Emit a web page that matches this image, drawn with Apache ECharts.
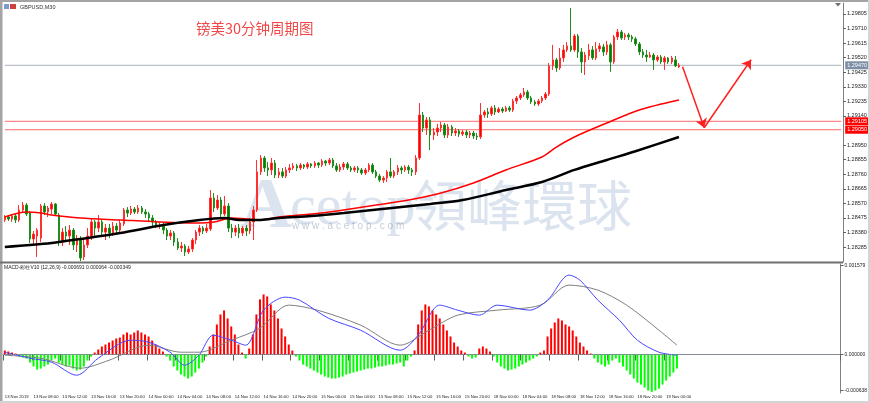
<!DOCTYPE html>
<html><head><meta charset="utf-8">
<script src="https://cdn.jsdelivr.net/npm/echarts@6/dist/echarts.min.js"></script>
<style>html,body{margin:0;padding:0;background:#fff}#c{width:870px;height:403px}</style>
</head><body><div id="c"></div>
<script>
const timeLabels = ["13 Nov 2019","13 Nov 08:00","13 Nov 12:00","13 Nov 16:00","13 Nov 20:00","14 Nov 00:00","14 Nov 04:00","14 Nov 08:00","14 Nov 12:00","14 Nov 16:00","14 Nov 20:00","15 Nov 00:00","15 Nov 04:00","15 Nov 08:00","15 Nov 12:00","15 Nov 16:00","15 Nov 20:00","18 Nov 00:00","18 Nov 04:00","18 Nov 08:00","18 Nov 12:00","18 Nov 16:00","18 Nov 20:00","19 Nov 00:00"];

const opens = [1.28462,1.28481,1.28468,1.28488,1.28462,1.28527,1.28559,1.28507,1.28338,1.28357,
1.28344,1.28553,1.28514,1.28533,1.28566,1.28494,1.28318,1.28383,1.28357,1.28396,
1.28299,1.28331,1.28220,1.28299,1.28357,1.28449,1.28409,1.28449,1.28383,1.28409,
1.28377,1.28422,1.28396,1.28436,1.28527,1.28507,1.28533,1.28514,1.28540,1.28514,
1.28501,1.28475,1.28449,1.28422,1.28429,1.28396,1.28357,1.28377,1.28318,1.28279,
1.28292,1.28253,1.28273,1.28331,1.28383,1.28409,1.28390,1.28403,1.28605,1.28540,
1.28592,1.28501,1.28553,1.28409,1.28383,1.28409,1.28377,1.28409,1.28390,1.28449,
1.28527,1.28775,1.28866,1.28801,1.28788,1.28833,1.28755,1.28775,1.28748,1.28788,
1.28801,1.28814,1.28801,1.28820,1.28807,1.28827,1.28814,1.28833,1.28820,1.28846,
1.28833,1.28853,1.28814,1.28788,1.28807,1.28827,1.28801,1.28788,1.28801,1.28788,
1.28768,1.28788,1.28820,1.28775,1.28748,1.28722,1.28735,1.28775,1.28748,1.28775,
1.28801,1.28788,1.28807,1.28788,1.28775,1.28866,1.29146,1.29061,1.29114,1.29016,
1.29035,1.29061,1.29081,1.29016,1.29068,1.29029,1.29042,1.29022,1.29035,1.29016,
1.29029,1.29009,1.29003,1.29146,1.29166,1.29153,1.29192,1.29166,1.29185,1.29172,
1.29192,1.29179,1.29237,1.29257,1.29277,1.29296,1.29257,1.29231,1.29218,1.29237,
1.29257,1.29283,1.29466,1.29505,1.29453,1.29518,1.29570,1.29596,1.29570,1.29661,
1.29557,1.29492,1.29531,1.29570,1.29518,1.29577,1.29590,1.29557,1.29603,1.29492,
1.29655,1.29687,1.29655,1.29668,1.29655,1.29642,1.29609,1.29557,1.29537,1.29524,
1.29537,1.29505,1.29524,1.29492,1.29518,1.29492,1.29505,1.29459];

const closes = [1.28481,1.28468,1.28488,1.28462,1.28527,1.28559,1.28501,1.28338,1.28370,1.28396,
1.28553,1.28514,1.28540,1.28566,1.28501,1.28318,1.28383,1.28357,1.28396,1.28299,
1.28331,1.28214,1.28299,1.28357,1.28449,1.28409,1.28449,1.28383,1.28409,1.28377,
1.28422,1.28396,1.28442,1.28527,1.28507,1.28533,1.28514,1.28540,1.28514,1.28501,
1.28475,1.28449,1.28422,1.28429,1.28396,1.28357,1.28377,1.28318,1.28279,1.28292,
1.28253,1.28273,1.28331,1.28383,1.28409,1.28390,1.28409,1.28605,1.28540,1.28592,
1.28501,1.28553,1.28409,1.28383,1.28409,1.28377,1.28409,1.28390,1.28449,1.28527,
1.28775,1.28866,1.28801,1.28788,1.28833,1.28755,1.28775,1.28748,1.28788,1.28801,
1.28814,1.28801,1.28820,1.28807,1.28827,1.28814,1.28833,1.28820,1.28846,1.28833,
1.28853,1.28814,1.28788,1.28807,1.28827,1.28801,1.28788,1.28801,1.28788,1.28768,
1.28788,1.28820,1.28775,1.28748,1.28722,1.28735,1.28775,1.28748,1.28775,1.28801,
1.28788,1.28807,1.28788,1.28775,1.28866,1.29146,1.29061,1.29114,1.29016,1.29035,
1.29061,1.29081,1.29016,1.29068,1.29029,1.29042,1.29022,1.29035,1.29016,1.29029,
1.29009,1.29003,1.29146,1.29166,1.29153,1.29192,1.29166,1.29185,1.29172,1.29192,
1.29179,1.29237,1.29257,1.29277,1.29296,1.29257,1.29231,1.29218,1.29237,1.29257,
1.29283,1.29466,1.29505,1.29453,1.29518,1.29570,1.29596,1.29570,1.29661,1.29557,
1.29492,1.29537,1.29570,1.29518,1.29577,1.29596,1.29557,1.29603,1.29492,1.29655,
1.29687,1.29648,1.29668,1.29655,1.29642,1.29609,1.29557,1.29537,1.29524,1.29537,
1.29505,1.29524,1.29492,1.29518,1.29492,1.29518,1.29466,1.29470];

const highs = [1.28494,1.28494,1.28501,1.28501,1.28559,1.28579,1.28572,1.28520,1.28390,1.28409,
1.28566,1.28572,1.28553,1.28579,1.28572,1.28507,1.28409,1.28422,1.28429,1.28409,
1.28364,1.28357,1.28331,1.28409,1.28475,1.28462,1.28494,1.28462,1.28436,1.28436,
1.28449,1.28442,1.28462,1.28540,1.28546,1.28553,1.28546,1.28559,1.28553,1.28533,
1.28514,1.28494,1.28462,1.28449,1.28442,1.28409,1.28396,1.28390,1.28344,1.28318,
1.28305,1.28292,1.28344,1.28396,1.28429,1.28422,1.28436,1.28657,1.28638,1.28625,
1.28612,1.28618,1.28572,1.28436,1.28429,1.28436,1.28422,1.28429,1.28475,1.28553,
1.28853,1.28885,1.28879,1.28840,1.28866,1.28853,1.28801,1.28801,1.28807,1.28827,
1.28833,1.28827,1.28833,1.28827,1.28840,1.28833,1.28846,1.28840,1.28859,1.28853,
1.28866,1.28866,1.28833,1.28827,1.28840,1.28840,1.28814,1.28814,1.28814,1.28801,
1.28801,1.28833,1.28833,1.28788,1.28762,1.28748,1.28788,1.28866,1.28788,1.28820,
1.28814,1.28820,1.28820,1.28801,1.28885,1.29224,1.29166,1.29133,1.29133,1.29061,
1.29088,1.29101,1.29094,1.29088,1.29081,1.29061,1.29055,1.29048,1.29048,1.29042,
1.29042,1.29029,1.29224,1.29179,1.29192,1.29205,1.29211,1.29198,1.29198,1.29205,
1.29205,1.29251,1.29270,1.29290,1.29322,1.29309,1.29270,1.29244,1.29251,1.29270,
1.29296,1.29485,1.29603,1.29518,1.29583,1.29603,1.29622,1.29844,1.29674,1.29674,
1.29583,1.29557,1.29609,1.29596,1.29622,1.29616,1.29609,1.29629,1.29616,1.29668,
1.29707,1.29700,1.29681,1.29681,1.29668,1.29655,1.29622,1.29577,1.29570,1.29557,
1.29550,1.29537,1.29537,1.29531,1.29524,1.29531,1.29531,1.29485];

const lows = [1.28449,1.28455,1.28449,1.28442,1.28449,1.28507,1.28488,1.28312,1.28299,1.28220,
1.28318,1.28494,1.28481,1.28501,1.28488,1.28292,1.28292,1.28331,1.28299,1.28266,
1.28253,1.28194,1.28201,1.28279,1.28331,1.28357,1.28383,1.28364,1.28331,1.28344,
1.28357,1.28370,1.28377,1.28422,1.28481,1.28494,1.28501,1.28501,1.28501,1.28475,
1.28449,1.28422,1.28409,1.28403,1.28370,1.28331,1.28331,1.28292,1.28266,1.28253,
1.28227,1.28240,1.28253,1.28305,1.28357,1.28370,1.28377,1.28390,1.28514,1.28527,
1.28475,1.28488,1.28383,1.28344,1.28357,1.28344,1.28357,1.28357,1.28370,1.28331,
1.28514,1.28755,1.28775,1.28748,1.28755,1.28735,1.28735,1.28735,1.28735,1.28768,
1.28788,1.28781,1.28788,1.28794,1.28794,1.28801,1.28801,1.28801,1.28807,1.28814,
1.28820,1.28801,1.28775,1.28775,1.28788,1.28788,1.28775,1.28775,1.28768,1.28755,
1.28755,1.28775,1.28762,1.28735,1.28709,1.28703,1.28709,1.28735,1.28735,1.28755,
1.28762,1.28775,1.28762,1.28748,1.28755,1.28853,1.29035,1.29016,1.28918,1.28983,
1.29009,1.29035,1.28996,1.28996,1.29009,1.29009,1.29003,1.29009,1.28996,1.28996,
1.28990,1.28983,1.28990,1.29127,1.29127,1.29140,1.29146,1.29159,1.29159,1.29166,
1.29166,1.29166,1.29218,1.29244,1.29264,1.29244,1.29218,1.29205,1.29205,1.29224,
1.29244,1.29270,1.29440,1.29427,1.29440,1.29492,1.29557,1.29557,1.29557,1.29518,
1.29420,1.29407,1.29505,1.29505,1.29505,1.29557,1.29531,1.29537,1.29427,1.29479,
1.29635,1.29635,1.29635,1.29635,1.29622,1.29596,1.29537,1.29518,1.29492,1.29518,
1.29440,1.29492,1.29479,1.29440,1.29479,1.29479,1.29459,1.29453];

// moving averages read at sample bars: [bar index, price]
const maRed = [[0,1.28481],[5.6,1.28514],[9.8,1.28507],[12.5,1.28494],[20.9,1.28475],[32,1.28462],[43,1.28449],[54,1.28442],[58.3,1.28449],[62.5,1.28475],[66.6,1.28468],[70.8,1.28462],[76.3,1.28481],[81.9,1.28494],[90.2,1.28514],[94.4,1.28527],[102.7,1.28559],[111.6,1.28592],[120.7,1.28638],[129.9,1.28703],[139.3,1.28788],[148.5,1.28872],[153.2,1.28937],[157.6,1.29003],[167,1.29094],[176.2,1.29179],[186.7,1.29244]];
const maBlack = [[0,1.28286],[12.5,1.28312],[20.9,1.28338],[32,1.28377],[44.4,1.28429],[54,1.28462],[61.1,1.28475],[65.2,1.28462],[70.8,1.28462],[76.3,1.28475],[84.7,1.28488],[94.4,1.28507],[109.6,1.28546],[118,1.28566],[127.1,1.28592],[139.3,1.28657],[148.5,1.28709],[157.6,1.28788],[167,1.28853],[176.2,1.28918],[186.7,1.29003]];

const macdHist = [0.000071,0.000053,0.000035,0.000018,
-0.000035,-0.000053,-0.000071,
-0.000142,-0.000212,-0.000266,-0.000248,-0.000212,-0.000177,
-0.000106,-0.000071,-0.000142,
-0.000177,-0.000212,-0.000195,-0.000248,-0.000283,-0.000266,-0.000212,
-0.000106,-0.000035,0.000035,
0.000089,0.000142,0.000177,0.000212,0.000248,0.000283,0.000301,0.000354,0.000389,0.000354,0.000389,0.000425,0.000389,0.000354,0.000319,
0.000248,0.000177,0.000106,0.000053,-0.000035,-0.000106,
-0.000212,-0.000283,-0.000354,-0.000389,-0.000425,-0.000389,-0.000319,-0.000248,-0.000142,
-0.000035,0.000142,0.000354,0.000531,0.000708,
0.000779,0.000637,0.000496,0.000354,
0.000177,0.000035,-0.000071,
0.000106,0.000354,0.000708,0.000974,
0.001062,0.001027,0.000885,0.000779,0.000637,
0.00046,0.000319,0.000177,0.000071,-0.000035,-0.000106,
-0.000177,-0.000212,-0.000248,-0.000283,-0.000319,-0.000354,-0.000389,-0.000407,-0.000425,-0.000425,-0.000407,-0.000389,-0.000354,-0.000336,-0.000319,-0.000301,-0.000283,-0.000266,-0.000248,-0.000248,-0.00023,-0.000212,-0.000212,-0.000195,-0.000177,-0.000177,-0.000159,-0.000142,
-0.000212,-0.000106,-0.000035,0.000071,
0.000531,0.000779,0.000885,0.00085,0.000779,0.000708,0.000637,0.000531,0.000425,0.000319,0.000212,
0.000142,0.000071,0.000035,-0.000035,-0.000071,-0.000053,0.000106,
0.000142,0.000106,0.000053,-0.000035,-0.000142,-0.000212,-0.000248,-0.000283,
-0.000266,-0.000248,-0.000212,-0.000177,-0.000142,-0.000106,-0.000071,-0.000035,0.000035,0.000071,
0.000319,0.00046,0.000566,0.000637,0.000602,0.000531,0.000496,0.000425,0.000319,0.000212,
0.000142,0.000071,0.000018,-0.000071,-0.000142,-0.000177,-0.000212,-0.000177,-0.000106,-0.000071,
-0.000142,-0.000212,-0.000283,-0.000354,-0.000425,-0.000496,-0.000531,-0.000584,-0.000637,-0.000660,-0.000637,-0.000602,-0.000531,-0.00046,-0.000389,-0.000319,-0.000248];

const macdMain = [[0,0.000041],[7,-0.000065],[12.5,-0.000136],[19.5,-0.000366],[26.4,-0.000065],[34.7,0.000253],[40.3,0.000218],[45.8,0.000041],[50,-0.000189],[54.2,-0.000012],[58.3,0.000342],[62.5,0.000253],[66.6,0.000165],[72.2,0.000784],[77.7,0.001014],[81.9,0.000961],[90.2,0.000643],[98.5,0.00043],[109.6,0.000076],[115.2,0.000342],[120.7,0.000873],[126.3,0.000784],[131.8,0.000696],[137.4,0.000873],[145.7,0.000784],[151.2,0.000961],[156.8,0.001404],[159.6,0.001315],[165.1,0.000961],[170.7,0.000607],[176.2,0.000253],[181.7,0.000041],[187.3,-0.000012]];
const macdSignal = [[0,-0.000012],[9.8,-0.000065],[20.9,-0.000242],[29.2,-0.000101],[40.3,0.000165],[48.6,0.000041],[54.2,0.000041],[62.5,0.000253],[70.8,0.000466],[79.1,0.000873],[87.4,0.000784],[98.5,0.000519],[109.6,0.000165],[118,0.00043],[126.3,0.000696],[137.4,0.000784],[148.5,0.000873],[156.8,0.001227],[165.1,0.001138],[173.4,0.000873],[181.7,0.00043],[187.3,0.000165]];

const priceTicks = [1.28285,1.28380,1.28475,1.28570,1.28665,1.28760,1.28855,1.28950,1.29140,1.29235,1.29330,1.29425,1.29520,1.29615,1.29710,1.29805];
const macdTicks = [0.001579, 0, -0.000638];
const currentPrice = 1.29470;
const redLevels = [1.29105, 1.29050];
const arrowPath = [[187.6,1.29460],[193.7,1.29063],[206.7,1.29506]];

const SLOTS = 233;
const categories = Array.from({length: SLOTS}, (_, i) => String(i));
const candles = opens.map((o, i) => [o, closes[i], lows[i], highs[i]]);

const chart = echarts.init(document.getElementById('c'), null, {renderer: 'canvas'});
const FONT = 'Liberation Sans';
const isLabelIdx = i => i % 8 === 0 && i / 8 < timeLabels.length;
const lastIdx = SLOTS - 1;
const WM = 'rgba(135,162,198,0.30)';

function levelSeries(level, lineColor, labelBg) {
  return {type: 'line', xAxisIndex: 0, yAxisIndex: 0, symbol: 'none', silent: true, z: 1,
    data: [[0, level], [lastIdx, level]],
    lineStyle: {color: lineColor, width: 1, type: 'solid'},
    endLabel: {show: true, formatter: level.toFixed(5), color: '#fff', backgroundColor: labelBg,
      fontSize: 5.5, padding: [1, 2], distance: 4, fontFamily: FONT}};
}

const option = {
  animation: false,
  backgroundColor: '#ffffff',
  grid: [
    {left: 3, right: 27, top: 3, height: 259},
    {left: 3, right: 27, top: 264, height: 129}
  ],
  xAxis: [
    {type: 'category', gridIndex: 0, data: categories, boundaryGap: true,
     axisLine: {show: false}, axisTick: {show: false}, axisLabel: {show: false}, splitLine: {show: false}},
    {type: 'category', gridIndex: 1, data: categories, boundaryGap: true,
     axisLine: {show: true, lineStyle: {color: '#808080', width: 1}},
     axisTick: {show: true, interval: isLabelIdx, length: 6, lineStyle: {color: '#606060'}},
     axisLabel: {show: true, interval: isLabelIdx, formatter: (v, i) => isLabelIdx(i) ? timeLabels[i / 8] : '',
       align: 'left', fontSize: 4.2, color: '#222', margin: 1.5, fontFamily: FONT},
     splitLine: {show: false}}
  ],
  yAxis: [
    {type: 'value', gridIndex: 0, position: 'right', min: 1.28188, max: 1.29876,
     axisLine: {show: true, lineStyle: {color: '#808080'}},
     axisTick: {show: true, length: 3, customValues: priceTicks, lineStyle: {color: '#606060'}},
     axisLabel: {show: true, customValues: priceTicks, formatter: v => v.toFixed(5), fontSize: 5.5, color: '#222', margin: 4, fontFamily: FONT},
     splitLine: {show: false}},
    {type: 'value', gridIndex: 1, position: 'right', min: -0.00068, max: 0.0016,
     axisLine: {show: true, lineStyle: {color: '#808080'}},
     axisTick: {show: true, length: 3, customValues: macdTicks, lineStyle: {color: '#606060'}},
     axisLabel: {show: true, customValues: macdTicks, formatter: v => v.toFixed(6), fontSize: 5, color: '#222', margin: 4, fontFamily: FONT},
     splitLine: {show: false}}
  ],
  graphic: [
    {type: 'rect', shape: {x: 0, y: 0, width: 870, height: 2}, style: {fill: '#a4a4a4'}, z: 10},
    {type: 'rect', shape: {x: 0, y: 0, width: 2.5, height: 403}, style: {fill: '#a4a4a4'}, z: 10},
    {type: 'rect', shape: {x: 868, y: 0, width: 2, height: 403}, style: {fill: '#d4d4d4'}, z: 10},
    {type: 'rect', shape: {x: 0, y: 401, width: 870, height: 2}, style: {fill: '#d4d4d4'}, z: 10},
    {type: 'polygon', shape: {points: [[835, 3], [841, 3], [838, 6.5]]}, style: {fill: '#707070'}, z: 10},
    {type: 'line', shape: {x1: 0, y1: 262.5, x2: 843, y2: 262.5}, style: {stroke: '#707070', lineWidth: 2}, z: 10},
    {type: 'rect', shape: {x: 4, y: 4, width: 5, height: 5}, style: {fill: '#7a9ad0'}, z: 10},
    {type: 'rect', shape: {x: 10, y: 4, width: 6, height: 5}, style: {fill: '#d04040'}, z: 10},
    {type: 'text', x: 20, y: 4, style: {text: 'GBPUSD,M30', fontSize: 5.5, fill: '#333', fontFamily: FONT}, z: 10},
    {type: 'text', x: 196, y: 21, style: {text: '镑美30分钟周期图', fontSize: 14.5, fill: '#f04848', fontFamily: 'Noto Sans CJK SC'}, z: 10},
    {type: 'text', x: 4, y: 265, style: {text: 'MACD-彩柱V10 (12,26,9) -0.000691 0.000064 -0.000349', fontSize: 5, fill: '#222', fontFamily: FONT}, z: 10},
    {type: 'text', x: 240, y: 172, style: {text: 'A', fontSize: 72, fill: WM, fontFamily: 'Liberation Serif', fontWeight: 'bold'}, z: 0},
    {type: 'text', x: 290, y: 180, style: {text: 'cetop', fontSize: 58, fill: WM, fontFamily: 'Liberation Serif'}, z: 0},
    {type: 'text', x: 412, y: 178, style: {text: '領峰環球', fontSize: 55, fill: WM, fontFamily: 'Noto Sans CJK TC'}, z: 0},
    {type: 'text', x: 292, y: 221, style: {text: 'w w w . a c e t o p . c o m', fontSize: 10, fill: 'rgba(120,140,160,0.45)', fontFamily: FONT}, z: 0}
  ],
  series: [
    levelSeries(currentPrice, '#a8b0ba', '#7d8ea6'),
    levelSeries(redLevels[0], '#ff6a6a', '#ff0000'),
    levelSeries(redLevels[1], '#ff6a6a', '#ff0000'),
    {type: 'candlestick', xAxisIndex: 0, yAxisIndex: 0, data: candles, barWidth: 2, z: 2,
     itemStyle: {color: '#ff0000', color0: '#008000', borderColor: '#ff3030', borderColor0: '#1e8e1e', borderWidth: 1}},
    {type: 'line', xAxisIndex: 0, yAxisIndex: 0, data: maRed, smooth: 0.3, symbol: 'none',
     lineStyle: {color: '#ff0000', width: 1.5}, z: 3,
     markLine: {silent: true, animation: false, symbol: ['none', 'arrow'], symbolSize: 9,
       lineStyle: {color: '#ff2020', width: 1.5, type: 'solid'}, label: {show: false},
       data: [
         [{coord: arrowPath[0]}, {coord: arrowPath[1]}],
         [{coord: arrowPath[1]}, {coord: arrowPath[2]}]
       ]}},
    {type: 'line', xAxisIndex: 0, yAxisIndex: 0, data: maBlack, smooth: 0.3, symbol: 'none',
     lineStyle: {color: '#000000', width: 2.5}, z: 3},
    {type: 'bar', xAxisIndex: 1, yAxisIndex: 1, barWidth: 2,
     data: macdHist.map(v => ({value: v, itemStyle: {color: v >= 0 ? '#ff0000' : '#00ff00'}})),
     markLine: {silent: true, symbol: ['none', 'none'], label: {show: false},
       lineStyle: {color: '#8596aa', type: 'dotted', width: 1}, data: [{yAxis: 0}]}},
    {type: 'line', xAxisIndex: 1, yAxisIndex: 1, data: macdSignal, smooth: 0.3, symbol: 'none',
     lineStyle: {color: '#808080', width: 1}},
    {type: 'line', xAxisIndex: 1, yAxisIndex: 1, data: macdMain, smooth: 0.3, symbol: 'none',
     lineStyle: {color: '#4646ff', width: 1}}
  ]
};
chart.setOption(option);
</script>
</body></html>
